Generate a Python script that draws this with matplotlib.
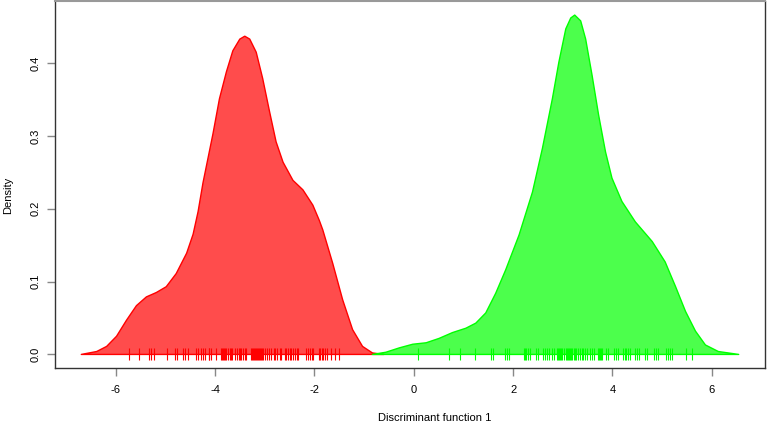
import matplotlib
matplotlib.use("Agg")
import matplotlib.pyplot as plt

# Density curve of group 1 (red)
red_x = [-6.69, -6.38, -6.18, -5.98, -5.78, -5.58, -5.38, -5.18, -4.98, -4.78, -4.57, -4.44,
         -4.34, -4.24, -4.04, -3.91, -3.77, -3.64, -3.50, -3.40, -3.30, -3.17, -3.04, -2.90,
         -2.77, -2.63, -2.43, -2.23, -2.03, -1.90, -1.83, -1.63, -1.43, -1.23, -1.03, -0.83,
         -0.60]
red_y = [0.0, 0.004, 0.011, 0.025, 0.047, 0.067, 0.079, 0.085, 0.093, 0.111, 0.139, 0.165,
         0.196, 0.236, 0.303, 0.351, 0.388, 0.417, 0.433, 0.437, 0.433, 0.415, 0.379, 0.333,
         0.292, 0.264, 0.239, 0.226, 0.205, 0.184, 0.171, 0.125, 0.075, 0.034, 0.011, 0.002,
         0.0]

# Density curve of group 2 (green)
green_x = [-0.83, -0.56, -0.29, -0.02, 0.25, 0.51, 0.78, 1.05, 1.25, 1.45, 1.65, 1.85, 2.12,
           2.39, 2.59, 2.79, 2.92, 3.06, 3.16, 3.24, 3.36, 3.46, 3.59, 3.72, 3.86, 3.99, 4.19,
           4.46, 4.80, 4.93, 5.06, 5.27, 5.47, 5.67, 5.87, 6.13, 6.54]
green_y = [0.0, 0.003, 0.009, 0.014, 0.016, 0.022, 0.030, 0.036, 0.043, 0.057, 0.084, 0.116,
           0.164, 0.223, 0.283, 0.351, 0.401, 0.447, 0.462, 0.466, 0.458, 0.433, 0.383, 0.329,
           0.278, 0.242, 0.210, 0.182, 0.155, 0.141, 0.127, 0.093, 0.059, 0.032, 0.013, 0.004,
           0.0]

# Rug (observations)
red_rug = [-5.73, -5.53, -5.32, -5.28, -5.22, -4.96, -4.80, -4.76, -4.64, -4.61, -4.54, -4.38,
           -4.34, -4.29, -4.25, -4.21, -4.13, -4.11, -4.07, -3.97, -3.87, -3.86, -3.84, -3.82,
           -3.79, -3.77, -3.74, -3.70, -3.67, -3.66, -3.59, -3.56, -3.52, -3.49, -3.47, -3.44,
           -3.40, -3.38, -3.27, -3.25, -3.23, -3.22, -3.20, -3.18, -3.16, -3.14, -3.12, -3.10,
           -3.08, -3.06, -3.04, -3.00, -2.96, -2.92, -2.87, -2.82, -2.79, -2.76, -2.70, -2.67,
           -2.60, -2.57, -2.53, -2.50, -2.46, -2.42, -2.39, -2.35, -2.33, -2.16, -2.12, -2.08,
           -2.05, -2.03, -1.90, -1.88, -1.85, -1.82, -1.78, -1.74, -1.66, -1.58, -1.50]
green_rug = [0.08, 0.70, 0.93, 1.24, 1.56, 1.60, 1.84, 1.87, 1.91, 2.21, 2.23, 2.26, 2.29, 2.33,
             2.47, 2.50, 2.61, 2.65, 2.69, 2.72, 2.78, 2.82, 2.88, 2.90, 2.92, 2.94, 2.96, 2.99,
             3.02, 3.06, 3.08, 3.10, 3.12, 3.15, 3.17, 3.19, 3.22, 3.24, 3.27, 3.30, 3.34, 3.38,
             3.41, 3.44, 3.49, 3.54, 3.58, 3.63, 3.70, 3.72, 3.74, 3.76, 3.78, 3.87, 3.91, 4.04,
             4.07, 4.11, 4.21, 4.25, 4.28, 4.32, 4.35, 4.45, 4.50, 4.53, 4.65, 4.69, 4.83, 4.88,
             4.92, 5.08, 5.11, 5.16, 5.20, 5.48, 5.60]

x_ticks = [-6, -4, -2, 0, 2, 4, 6]
y_ticks = [0.0, 0.1, 0.2, 0.3, 0.4]
x_label = "Discriminant function 1"
y_label = "Density"

plt.rcParams['font.family'] = ['Liberation Sans', 'DejaVu Sans']

W, H = 767, 423
fig = plt.figure(figsize=(W / 100, H / 100), dpi=100)
ax = fig.add_axes([55 / W, (H - 368) / H, (765 - 55) / W, (368 - 1.5) / H])

ax.fill(red_x, red_y, facecolor=(1, 0, 0, 0.7), edgecolor='red', linewidth=1,
        joinstyle='round')
ax.fill(green_x, green_y, facecolor=(0, 1, 0, 0.7), edgecolor=(0, 1, 0), linewidth=1,
        joinstyle='round')

ax.plot(red_rug, [0] * len(red_rug), linestyle='none', marker='|', markersize=8,
        markeredgewidth=0.8, color='red')
ax.plot(green_rug, [0] * len(green_rug), linestyle='none', marker='|', markersize=8,
        markeredgewidth=0.8, color=(0, 1, 0))

xmin, xmax = -6.69, 6.54
rx = (xmax - xmin) * 0.04
ax.set_xlim(xmin - rx, xmax + rx)
ax.set_ylim(-0.466 * 0.04, 0.466 * 1.04)

ax.set_xticks(x_ticks)
ax.set_xticklabels([str(t) for t in x_ticks])
ax.set_yticks(y_ticks)
ax.set_yticklabels([f"{t:.1f}" for t in y_ticks], rotation=90, va='center')
ax.tick_params(axis='both', direction='out', length=5.5, width=1, color='#888888',
               labelsize=8, labelcolor='black', pad=7)
ax.tick_params(axis='y', pad=5)

for side in ['left', 'bottom', 'right']:
    ax.spines[side].set_color('#333333')
    ax.spines[side].set_linewidth(1)
ax.spines['top'].set_color('#999999')
ax.spines['top'].set_linewidth(1.5)

fig.text(435 / W, 1 - 418 / H, x_label, ha='center', va='center', fontsize=8)
fig.text(8 / W, 1 - 195 / H, y_label, ha='center', va='center', fontsize=8, rotation=90)

fig.savefig("out.png", dpi=100)
